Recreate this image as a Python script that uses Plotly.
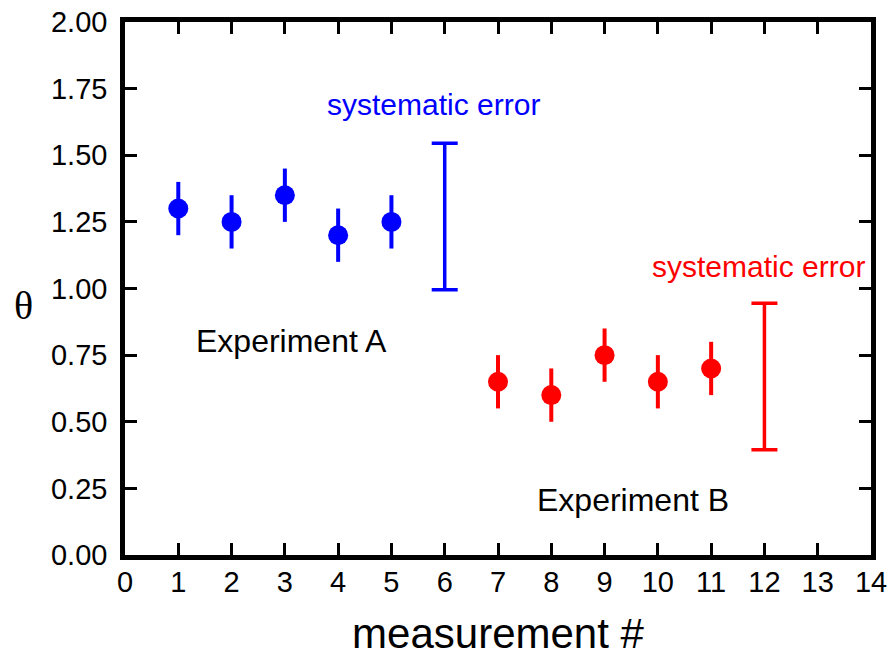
import plotly.graph_objects as go

# Data
xa = [1, 2, 3, 4, 5]
ya = [1.30, 1.25, 1.35, 1.20, 1.25]
ea = [0.10, 0.10, 0.10, 0.10, 0.10]
xb = [7, 8, 9, 10, 11]
yb = [0.65, 0.60, 0.75, 0.65, 0.70]
eb = [0.10, 0.10, 0.10, 0.10, 0.10]
sys_x = [6, 12]
sys_y = [1.27, 0.67]
sys_e = [0.275, 0.275]
sys_colors = ["#0000ff", "#ff0000"]

fig = go.Figure()
fig.add_trace(go.Scatter(x=xa, y=ya, mode="markers",
                         marker=dict(color="#0000ff", size=20),
                         error_y=dict(type="data", array=ea, color="#0000ff", thickness=4, width=0),
                         showlegend=False))
fig.add_trace(go.Scatter(x=xb, y=yb, mode="markers",
                         marker=dict(color="#ff0000", size=20),
                         error_y=dict(type="data", array=eb, color="#ff0000", thickness=4, width=0),
                         showlegend=False))
for sx, sy, se, c in zip(sys_x, sys_y, sys_e, sys_colors):
    fig.add_trace(go.Scatter(x=[sx], y=[sy], mode="markers",
                             marker=dict(color=c, size=1, opacity=0),
                             error_y=dict(type="data", array=[se], color=c, thickness=3.5, width=13),
                             showlegend=False))

font = "Liberation Sans, Arial, sans-serif"
fig.add_annotation(x=5.79, y=1.69, text="systematic error", showarrow=False,
                   font=dict(family=font, size=30, color="#0000ff"), xref="x", yref="y")
fig.add_annotation(x=11.89, y=1.082, text="systematic error", showarrow=False,
                   font=dict(family=font, size=30, color="#ff0000"), xref="x", yref="y")
fig.add_annotation(x=3.12, y=0.802, text="Experiment A", showarrow=False,
                   font=dict(family=font, size=32, color="black"), xref="x", yref="y")
fig.add_annotation(x=9.54, y=0.205, text="Experiment B", showarrow=False,
                   font=dict(family=font, size=32, color="black"), xref="x", yref="y")
fig.add_annotation(x=(22 - 124) / 749, y=(557 - 306) / 536, text="θ", showarrow=False,
                   font=dict(family="Liberation Serif, Times New Roman, serif", size=40, color="black"),
                   xref="paper", yref="paper", xanchor="center", yanchor="middle")

axis_common = dict(showline=True, linewidth=4.5, linecolor="black", mirror="ticks",
                   ticks="inside", ticklen=12, tickwidth=3, tickcolor="black",
                   showgrid=False, zeroline=False, automargin=False,
                   tickfont=dict(family=font, size=29, color="black"))
fig.update_xaxes(range=[0, 14], dtick=1, tick0=0, ticklabelstandoff=-3,
                 title=dict(text="measurement #", font=dict(family=font, size=42, color="black"), standoff=35),
                 **axis_common)
fig.update_yaxes(range=[0, 2], dtick=0.25, tick0=0, tickformat=".2f", ticklabelstandoff=7,
                 **axis_common)
fig.update_layout(width=889, height=657, margin=dict(l=125, r=18, t=22, b=102),
                  plot_bgcolor="white", paper_bgcolor="white")
fig.write_html("out.html")
